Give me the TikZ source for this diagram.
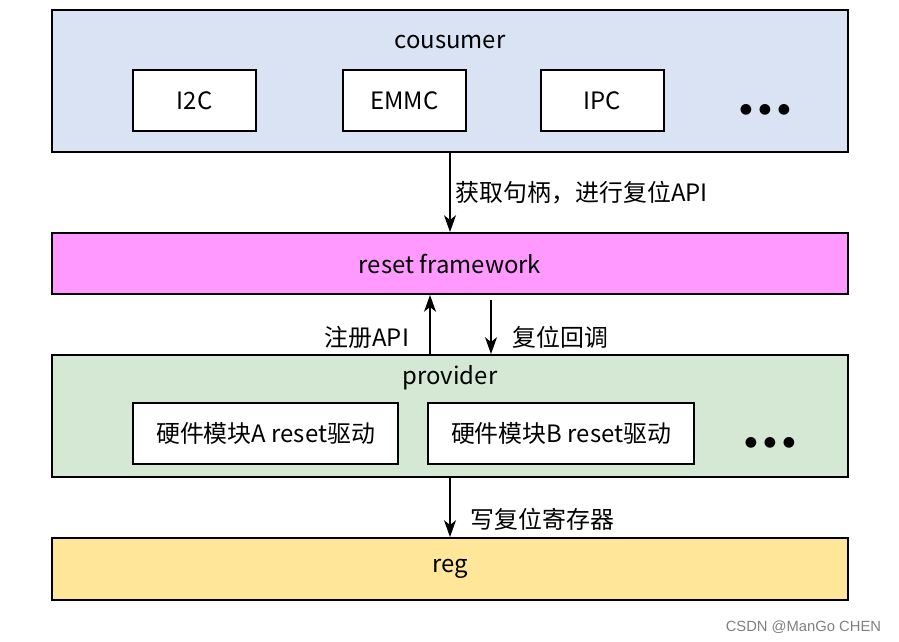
\documentclass[tikz,border=0pt]{standalone}
\usepackage{fontspec}
\setmainfont{Noto Sans CJK SC}
\newfontfamily\symfont{DejaVu Sans}
\newfontfamily\markfont{Liberation Sans}
\usetikzlibrary{arrows.meta}
\definecolor{consumerblue}{HTML}{DAE3F3}
\definecolor{frameworkpink}{HTML}{FF99FF}
\definecolor{providergreen}{HTML}{D5E8D4}
\definecolor{regyellow}{HTML}{FFE699}
\begin{document}
\begin{tikzpicture}[x=0.025cm, y=-0.025cm,
    every node/.style={font=\fontsize{17}{20}\selectfont},
    layer/.style={draw, line width=1.4pt, inner sep=0pt, minimum width=19.9cm},
    module/.style={draw, fill=white, line width=1.4pt, inner sep=0pt, minimum height=1.525cm},
    flow/.style={-{Stealth[length=0.42cm, width=0.3cm, inset=0.12cm]}, line width=1pt}]
    \useasboundingbox (0,0) rectangle (899,642);

    % consumer layer
    \node[layer, fill=consumerblue, minimum height=3.55cm] at (450,81) (consumer) {};
    \node at (450,42) (consumer_t) {cousumer};
    \node[module, minimum width=3.075cm] at (194.5,100.5) (i2c)  {I2C};
    \node[module, minimum width=3.075cm] at (404.5,100.5) (emmc) {EMMC};
    \node[module, minimum width=3.075cm] at (602.5,100.5) (ipc)  {IPC};
    \node at (765,110) (more_c) {\symfont\fontsize{10}{10}\selectfont ●\hspace{0.17cm}●\hspace{0.17cm}●};

    % reset framework
    \node[layer, fill=frameworkpink, minimum height=1.525cm] at (450,263.5) (framework) {reset framework};

    % provider layer
    \node[layer, fill=providergreen, minimum height=3.05cm] at (450,416) (provider) {};
    \node at (450,378) (provider_t) {provider};
    \node[module, minimum width=6.625cm] at (265.5,433.5) (hw_a) {硬件模块A reset驱动};
    \node[module, minimum width=6.65cm] at (561,433.5) (hw_b) {硬件模块B reset驱动};
    \node at (770,443) (more_p) {\symfont\fontsize{10}{10}\selectfont ●\hspace{0.17cm}●\hspace{0.17cm}●};

    % reg
    \node[layer, fill=regyellow, minimum height=1.55cm] at (450,569) (reg) {reg};

    % connectors
    \coordinate (up_x) at (430,0);
    \coordinate (down_x) at (491,0);
    \draw[flow] (consumer.south) -- (framework.north);
    \draw[flow] (provider.north -| up_x) -- (framework.south -| up_x);
    \draw[flow, shorten <=0.12cm] (framework.south -| down_x) -- (provider.north -| down_x);
    \draw[flow] (provider.south) -- (reg.north);

    \node[anchor=west] at (451,193) (get_t) {获取句柄，进行复位API};
    \node[anchor=east] at (414,337) (reg_t) {注册API};
    \node[anchor=west] at (508,337) (cb_t) {复位回调};
    \node[anchor=west] at (466,519) (wr_t) {写复位寄存器};

    \node[anchor=east, text=gray, font=\markfont\fontsize{10.5}{12}\selectfont] at (886,627) (mark) {CSDN @ManGo CHEN};
\end{tikzpicture}
\end{document}
